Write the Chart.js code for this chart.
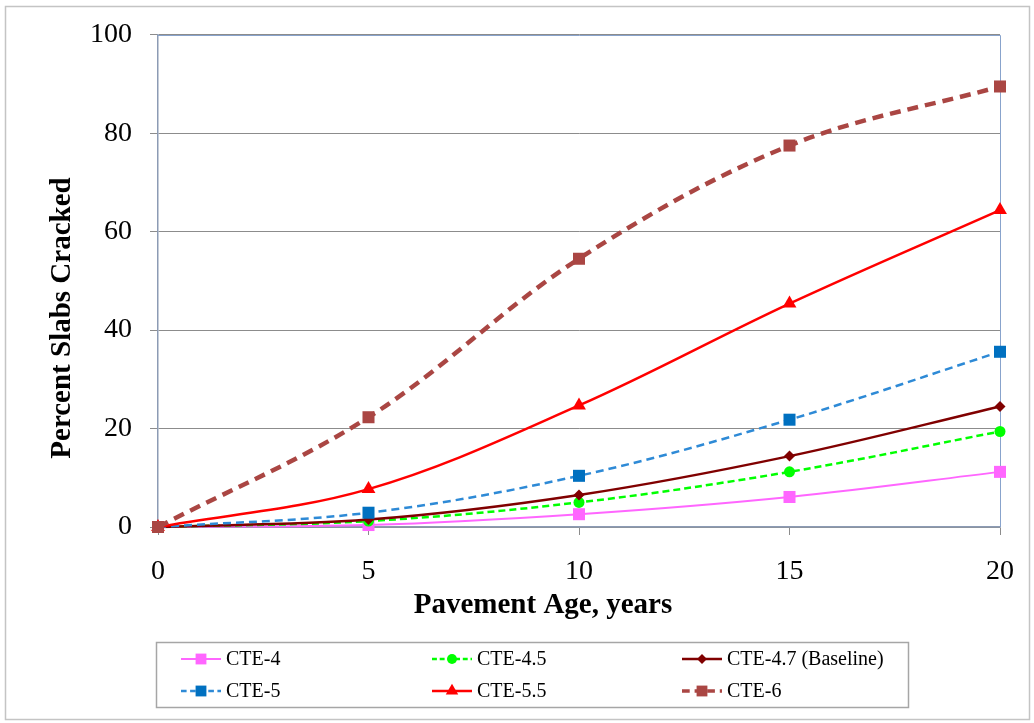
<!DOCTYPE html>
<html>
<head>
<meta charset="utf-8">
<script src="https://cdn.jsdelivr.net/npm/chart.js@4.4.1/dist/chart.umd.min.js"></script>
<style>
  html, body { margin: 0; padding: 0; background: #ffffff; }
  #wrap { width: 1034px; height: 723px; }
</style>
</head>
<body>
<div id="wrap"><canvas id="c" width="1034" height="723"></canvas></div>
<script>
// ---- data ----
const years = [0, 5, 10, 15, 20];
const seriesNames = ['CTE-4', 'CTE-4.5', 'CTE-4.7 (Baseline)', 'CTE-5', 'CTE-5.5', 'CTE-6'];
const cte4   = [0, 0.4, 2.6, 6.1, 11.2];
const cte45  = [0, 1.2, 5.0, 11.2, 19.4];
const cte47  = [0, 1.5, 6.5, 14.4, 24.5];
const cte5   = [0, 2.9, 10.4, 21.8, 35.6];
const cte55  = [0, 7.7, 24.7, 45.4, 64.4];
const cte6   = [0, 22.3, 54.5, 77.5, 89.5];
const xTicks = [0, 5, 10, 15, 20];
const yTicks = [0, 20, 40, 60, 80, 100];
const xTitle = 'Pavement Age, years';
const yTitle = 'Percent Slabs Cracked';

const SERIF = '"Liberation Serif", "Times New Roman", serif';

function pts(vals) { return years.map((x, i) => ({ x: x, y: vals[i] })); }

const styles = [
  { line: '#FF66FF', fill: '#FF66FF', point: 'rect',     r: 8.5, w: 2,   dash: [] },
  { line: '#00FF00', fill: '#00FF00', point: 'circle',   r: 5.5, w: 2.5, dash: [7, 4] },
  { line: '#800000', fill: '#800000', point: 'rectRot',  r: 5.5, w: 2.5, dash: [] },
  { line: '#2E8AD6', fill: '#0070C0', point: 'rect',     r: 8.5, w: 2.5, dash: [8, 5] },
  { line: '#FF0000', fill: '#FF0000', point: 'triangle', r: 8,   w: 2.5, dash: [] },
  { line: '#AA4643', fill: '#AA4643', point: 'rect',     r: 8.5, w: 4.5, dash: [11, 7] }
];
const allVals = [cte4, cte45, cte47, cte5, cte55, cte6];

const datasets = allVals.map((v, i) => ({
  label: seriesNames[i],
  data: pts(v),
  borderColor: styles[i].line,
  backgroundColor: styles[i].fill,
  pointBackgroundColor: styles[i].fill,
  pointBorderColor: styles[i].fill,
  pointBorderWidth: 0,
  pointStyle: styles[i].point,
  pointRadius: styles[i].r,
  pointHoverRadius: styles[i].r,
  borderWidth: styles[i].w,
  borderDash: styles[i].dash,
  tension: 0.35,
  fill: false,
  clip: false,
  order: 6 - i
}));

const decor = {
  id: 'decor',
  beforeDraw(chart) {
    const ctx = chart.ctx;
    ctx.save();
    ctx.fillStyle = '#ffffff';
    ctx.fillRect(0, 0, chart.width, chart.height);
    ctx.restore();
  },
  beforeDatasetsDraw(chart) {
    const ctx = chart.ctx;
    const a = chart.chartArea;
    ctx.save();
    ctx.strokeStyle = '#88A3CC';
    ctx.lineWidth = 1;
    ctx.beginPath();
    ctx.moveTo(a.left, Math.round(a.top) + 0.5);
    ctx.lineTo(Math.round(a.right) + 0.5, Math.round(a.top) + 0.5);
    ctx.lineTo(Math.round(a.right) + 0.5, a.bottom);
    ctx.stroke();
    ctx.restore();
  },
  afterDraw(chart) {
    const ctx = chart.ctx;
    ctx.save();
    // outer frame
    ctx.strokeStyle = '#C4C4C4';
    ctx.lineWidth = 1.5;
    ctx.strokeRect(5.5, 6.5, 1024, 713);

    // axis titles
    ctx.fillStyle = '#000000';
    ctx.font = 'bold 29px ' + SERIF;
    ctx.textAlign = 'center';
    ctx.textBaseline = 'middle';
    ctx.fillText(xTitle, 543, 606);
    ctx.save();
    ctx.translate(63, 318);
    ctx.rotate(-Math.PI / 2);
    ctx.fillText(yTitle, 0, 0);
    ctx.restore();

    // legend
    const bx = 156.5, by = 642.5, bw = 752, bh = 65;
    ctx.strokeStyle = '#A6A6A6';
    ctx.lineWidth = 1.5;
    ctx.strokeRect(bx, by, bw, bh);
    const colX = [181, 432, 682];
    const rowY = [659, 691];
    chart.data.datasets.forEach((ds, i) => {
      const cx = colX[i % 3];
      const cy = rowY[Math.floor(i / 3)];
      const len = 40;
      ctx.save();
      ctx.strokeStyle = ds.borderColor;
      ctx.lineWidth = Math.min(ds.borderWidth, 3.5);
      ctx.setLineDash(ds.borderDash.length ? ds.borderDash.map(d => d * 0.7) : []);
      ctx.beginPath();
      ctx.moveTo(cx, cy);
      ctx.lineTo(cx + len, cy);
      ctx.stroke();
      ctx.restore();
      ctx.save();
      ctx.fillStyle = ds.pointBackgroundColor;
      ctx.strokeStyle = ds.pointBackgroundColor;
      Chart.helpers.drawPoint(ctx, {
        pointStyle: ds.pointStyle,
        radius: ds.pointRadius * 0.9,
        borderWidth: 0,
        rotation: 0
      }, cx + len / 2, cy);
      ctx.restore();
      ctx.save();
      ctx.fillStyle = '#000000';
      ctx.font = '20px ' + SERIF;
      ctx.textAlign = 'left';
      ctx.textBaseline = 'middle';
      ctx.fillText(ds.label, cx + len + 5, cy + 1);
      ctx.restore();
    });
    ctx.restore();
  }
};

const chart = new Chart(document.getElementById('c'), {
  type: 'line',
  data: { datasets: datasets },
  options: {
    responsive: false,
    devicePixelRatio: 1,
    animation: false,
    events: [],
    layout: { padding: { left: 0, top: 33, right: 34, bottom: 0 } },
    plugins: {
      legend: { display: false },
      tooltip: { enabled: false },
      title: { display: false }
    },
    scales: {
      x: {
        type: 'linear',
        min: 0, max: 20,
        afterFit(s) { s.height = 723 - 527; },
        afterBuildTicks(s) { s.ticks = xTicks.map(v => ({ value: v })); },
        grid: { drawOnChartArea: false, drawTicks: true, tickLength: 8, color: '#8C8C8C', lineWidth: 1 },
        border: { display: true, color: '#8C9BB4', width: 1.5 },
        ticks: {
          padding: 20,
          color: '#000000',
          font: { family: SERIF, size: 28 },
          maxRotation: 0
        }
      },
      y: {
        type: 'linear',
        min: 0, max: 100,
        afterFit(s) { s.width = 158; },
        afterBuildTicks(s) { s.ticks = yTicks.map(v => ({ value: v })); },
        grid: { drawTicks: true, tickLength: 8, color: '#8C8C8C', lineWidth: 1 },
        border: { display: true, color: '#8C9BB4', width: 1.5 },
        ticks: {
          padding: 18,
          color: '#000000',
          font: { family: SERIF, size: 28 }
        }
      }
    }
  },
  plugins: [decor]
});
</script>
</body>
</html>
